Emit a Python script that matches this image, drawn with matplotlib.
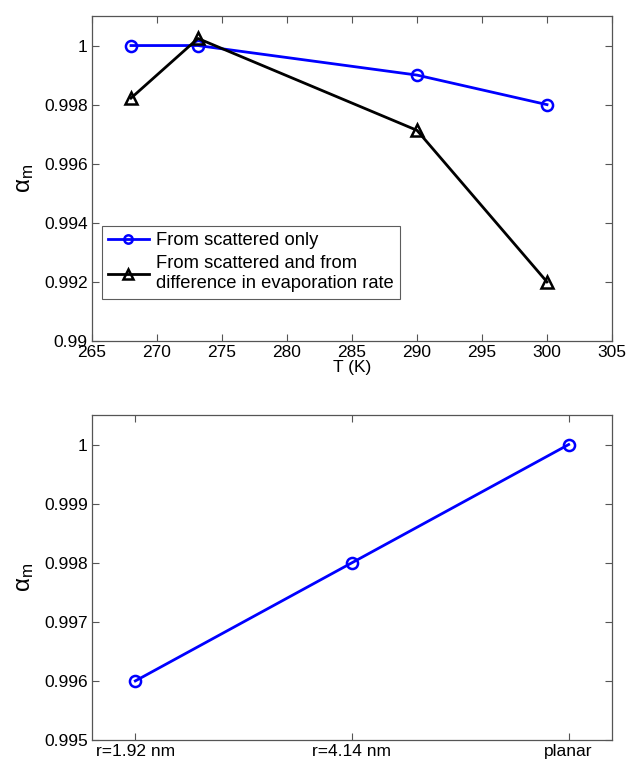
import matplotlib
matplotlib.use("Agg")
import matplotlib.pyplot as plt

plt.rcParams['font.family'] = ['Liberation Sans', 'DejaVu Sans']
plt.rcParams['mathtext.fontset'] = 'custom'
plt.rcParams['mathtext.rm'] = 'Liberation Sans'
plt.rcParams['mathtext.it'] = 'Liberation Sans:italic'

# Temperature sweep
temps = [268, 273.15, 290, 300]
alpha_scattered = [1.0, 1.0, 0.999, 0.998]
alpha_combined = [0.99822, 1.00024, 0.99713, 0.992]

# Curvature sweep
radius_labels = ['r=1.92 nm', 'r=4.14 nm', 'planar']
alpha_radius = [0.996, 0.998, 1.0]

frame_color = '#555555'
fs = 12.5

fig = plt.figure(figsize=(6.27, 7.63), dpi=100)
ax1 = fig.add_axes([92/627, 1 - 341/763, (612-92)/627, (341-16)/763])
ax2 = fig.add_axes([92/627, 1 - 740/763, (612-92)/627, (740-415)/763])


def style(ax):
    for s in ax.spines.values():
        s.set_color(frame_color)
        s.set_linewidth(0.9)
    ax.tick_params(direction='in', top=True, right=True, length=5,
                   width=0.8, color=frame_color, labelsize=fs, pad=3)


ax1.plot(temps, alpha_scattered, '-o', color='#0000ff', lw=2.0, ms=8,
         mfc='none', mew=1.8, label='From scattered only')
ax1.plot(temps, alpha_combined, '-^', color='black', lw=2.0, ms=9,
         mfc='none', mew=1.8,
         label='From scattered and from\ndifference in evaporation rate')
ax1.set_xlim(265, 305)
ax1.set_ylim(0.99, 1.001)
ax1.set_xticks(range(265, 306, 5))
ax1.set_yticks([0.99, 0.992, 0.994, 0.996, 0.998, 1.0])
ax1.set_yticklabels(['0.99', '0.992', '0.994', '0.996', '0.998', '1'])
ax1.set_xlabel('T (K)', fontsize=fs, labelpad=0)
ax1.set_ylabel(r'$\mathrm{\alpha}_\mathrm{m}$', fontsize=fs + 5, labelpad=6)
style(ax1)
leg = ax1.legend(loc='upper left', bbox_to_anchor=(0.019, 0.354),
                 fontsize=13.2, frameon=True, fancybox=False,
                 edgecolor='#333333', handlelength=2.2, borderpad=0.35,
                 labelspacing=0.3, handletextpad=0.4, borderaxespad=0,
                 markerscale=0.75)
leg.get_frame().set_linewidth(0.8)
for t in leg.get_texts():
    t.set_linespacing(1.25)

xpos = list(range(1, len(radius_labels) + 1))
ax2.plot(xpos, alpha_radius, '-o', color='#0000ff', lw=2.0, ms=8,
         mfc='none', mew=1.8)
ax2.set_xlim(0.8, 3.2)
ax2.set_ylim(0.995, 1.0005)
ax2.set_xticks(xpos)
ax2.set_xticklabels(radius_labels)
ax2.set_yticks([0.995, 0.996, 0.997, 0.998, 0.999, 1.0])
ax2.set_yticklabels(['0.995', '0.996', '0.997', '0.998', '0.999', '1'])
ax2.set_ylabel(r'$\mathrm{\alpha}_\mathrm{m}$', fontsize=fs + 5, labelpad=6)
style(ax2)

fig.savefig('out.png', dpi=100, facecolor='white')
